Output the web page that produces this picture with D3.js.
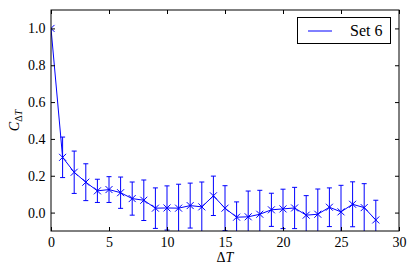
<!DOCTYPE html>
<html>
<head>
<meta charset="utf-8">
<script src="https://cdn.jsdelivr.net/npm/d3@7"></script>
<style>
  body { margin: 0; background: #fff; }
</style>
</head>
<body>
<div id="graph-section"></div>
<script>
// data
var lags = [0, 1, 2, 3, 4, 5, 6, 7, 8, 9, 10, 11, 12, 13, 14, 15, 16, 17, 18, 19, 20, 21, 22, 23, 24, 25, 26, 27, 28];
var corr = [1.0, 0.30, 0.219, 0.165, 0.118, 0.125, 0.108, 0.076, 0.067, 0.024, 0.025, 0.024, 0.038, 0.031, 0.091,
            0.024, -0.025, -0.023, -0.009, 0.015, 0.02, 0.025, -0.014, -0.009, 0.029, 0.004, 0.045, 0.027, -0.04];
var errs = [0, 0.11, 0.115, 0.10, 0.063, 0.07, 0.085, 0.09, 0.11, 0.11, 0.12, 0.13, 0.122, 0.135, 0.107,
            0.122, 0.083, 0.14, 0.13, 0.09, 0.107, 0.112, 0.106, 0.137, 0.105, 0.144, 0.122, 0.13, 0.107];
var xTicks = [0, 5, 10, 15, 20, 25, 30];
var yTicks = [0.0, 0.2, 0.4, 0.6, 0.8, 1.0];
var seriesName = "Set 6";

var data = lags.map(function(d, i) { return {lag: d, c: corr[i], e: errs[i]}; });

var fullWidth = 416, fullHeight = 273;
var margin = {top: 10, right: 17, bottom: 42, left: 51};
var width = fullWidth - margin.left - margin.right;   // 348
var height = fullHeight - margin.top - margin.bottom; // 221
var blue = "#0000ff";
var serif = "'Liberation Serif', 'Times New Roman', serif";

var svg = d3.select('div#graph-section').append('svg')
    .attr('width', fullWidth)
    .attr('height', fullHeight)
    .attr('font-family', serif);

var g = svg.append('g')
    .attr('transform', 'translate(' + margin.left + ',' + margin.top + ')');

var x = d3.scaleLinear().domain([0, 30]).range([0, width]);
var y = d3.scaleLinear().domain([-0.1, 1.1]).range([height, 0]);

g.append('clipPath').attr('id', 'clip')
  .append('rect').attr('width', width).attr('height', height);

var plot = g.append('g').attr('clip-path', 'url(#clip)');

// error bars
var eb = plot.selectAll('g.err').data(data.filter(function(d) { return d.e > 0; }))
  .enter().append('g').classed('err', true)
  .attr('stroke', blue).attr('stroke-width', 1);
eb.append('line')
  .attr('x1', function(d) { return x(d.lag); })
  .attr('x2', function(d) { return x(d.lag); })
  .attr('y1', function(d) { return y(d.c - d.e); })
  .attr('y2', function(d) { return y(d.c + d.e); });
[-1, 1].forEach(function(s) {
  eb.append('line')
    .attr('x1', function(d) { return x(d.lag) - 2.5; })
    .attr('x2', function(d) { return x(d.lag) + 2.5; })
    .attr('y1', function(d) { return y(d.c + s * d.e); })
    .attr('y2', function(d) { return y(d.c + s * d.e); });
});

// line
var line = d3.line()
  .x(function(d) { return x(d.lag); })
  .y(function(d) { return y(d.c); });
plot.append('path').datum(data)
  .attr('d', line)
  .attr('fill', 'none')
  .attr('stroke', blue)
  .attr('stroke-width', 1);

// x markers
var ms = 3.5;
plot.selectAll('path.mk').data(data)
  .enter().append('path').classed('mk', true)
  .attr('d', function(d) {
    var cx = x(d.lag), cy = y(d.c);
    return 'M' + (cx - ms) + ',' + (cy - ms) + 'L' + (cx + ms) + ',' + (cy + ms) +
           'M' + (cx - ms) + ',' + (cy + ms) + 'L' + (cx + ms) + ',' + (cy - ms);
  })
  .attr('stroke', blue)
  .attr('stroke-width', 1);

// axes, ticks pointing inward on all sides
var tl = 4;
var axB = g.append('g').attr('transform', 'translate(0,' + height + ')')
  .call(d3.axisBottom(x).tickValues(xTicks).tickSizeInner(-tl).tickSizeOuter(0).tickPadding(6));
var axT = g.append('g')
  .call(d3.axisTop(x).tickValues(xTicks).tickSizeInner(-tl).tickSizeOuter(0).tickFormat(''));
var axL = g.append('g')
  .call(d3.axisLeft(y).tickValues(yTicks).tickSizeInner(-tl).tickSizeOuter(0).tickPadding(5.5).tickFormat(d3.format('.1f')));
var axR = g.append('g').attr('transform', 'translate(' + width + ',0)')
  .call(d3.axisRight(y).tickValues(yTicks).tickSizeInner(-tl).tickSizeOuter(0).tickFormat(''));

[axB, axT, axL, axR].forEach(function(a) {
  a.attr('font-family', serif).attr('font-size', 14);
  a.select('.domain').remove();
  a.selectAll('line').attr('stroke', '#000');
  a.selectAll('text').attr('fill', '#000');
});

g.append('rect')
  .attr('width', width).attr('height', height)
  .attr('fill', 'none').attr('stroke', '#000').attr('stroke-width', 1);

// axis labels
svg.append('text')
  .attr('x', margin.left + width / 2)
  .attr('y', 262)
  .attr('text-anchor', 'middle')
  .attr('font-size', 14)
  .html('Δ<tspan font-style="italic">T</tspan>');

svg.append('text')
  .attr('transform', 'translate(19,' + (margin.top + height / 2) + ')rotate(-90)')
  .attr('text-anchor', 'middle')
  .attr('font-size', 14)
  .html('<tspan font-style="italic">C</tspan><tspan font-size="10" dy="3">Δ<tspan font-style="italic">T</tspan></tspan>');

// legend
var lg = svg.append('g');
lg.append('rect')
  .attr('x', 297.5).attr('y', 17.5).attr('width', 93).attr('height', 26)
  .attr('fill', '#fff').attr('stroke', '#000').attr('stroke-width', 1);
lg.append('line')
  .attr('x1', 308).attr('x2', 332).attr('y1', 31).attr('y2', 31)
  .attr('stroke', blue).attr('stroke-width', 1);
lg.append('text')
  .attr('x', 350).attr('y', 36)
  .attr('font-size', 16)
  .text(seriesName);
</script>
</body>
</html>
